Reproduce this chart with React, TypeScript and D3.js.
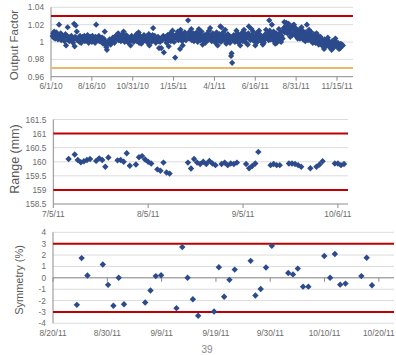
import React from 'react';
import * as d3 from 'd3';

// output factor: [days since 6/1/10, value]
const outputFactor: [number, number][] = [
  [3,1.007],[4,1.010],[5,1.005],[6,1.012],[7,1.008],[8,1.004],[10,1.011],[11,1.006],[12,1.009],[13,1.003],
  [14,1.007],[15,1.020],[17,1.005],[18,1.010],[19,1.002],[20,1.008],[21,1.004],[24,1.007],[25,1.001],[26,1.006],
  [27,1.009],[28,0.996],[31,1.017],[32,1.003],[33,1.006],[34,1.001],[35,1.004],[38,1.007],[39,1.002],[40,1.005],
  [41,0.999],[42,1.003],[43,1.021],[45,1.006],[46,1.019],[47,1.004],[48,1.012],[49,1.002],[52,1.005],[53,1.000],
  [54,1.007],[55,1.003],[56,0.999],[59,1.006],[60,1.002],[61,1.004],[62,1.007],[63,1.001],[66,1.005],[67,1.002],
  [68,1.008],[69,1.003],[70,0.999],[73,1.006],[74,1.002],[75,1.004],[76,1.000],[77,1.007],[80,1.003],[81,1.005],
  [82,0.999],[83,1.006],[84,1.020],[87,1.002],[88,1.004],[89,1.007],[90,1.001],[91,1.003],[94,1.000],[95,1.005],
  [96,1.002],[97,0.998],[98,1.004],[101,1.001],[102,0.997],[103,0.994],[104,0.991],[105,1.000],[108,0.998],[109,1.003],
  [110,1.000],[111,0.997],[112,1.002],[115,1.005],[116,1.001],[117,1.004],[118,0.999],[119,1.006],[122,1.008],[123,1.003],
  [124,1.006],[125,1.010],[126,1.002],[129,1.005],[130,1.001],[131,1.007],[132,1.003],[133,1.009],[136,1.004],[137,1.000],
  [138,1.006],[139,1.002],[140,1.008],[143,1.003],[144,0.999],[145,1.005],[146,1.001],[147,1.004],[150,1.007],[151,1.002],
  [152,1.004],[153,1.005],[154,1.000],[157,1.006],[158,1.003],[159,1.009],[160,1.001],[161,1.004],[164,0.999],[165,1.003],
  [166,1.007],[167,1.002],[168,0.998],[171,1.005],[172,1.001],[173,1.008],[174,1.003],[175,1.006],[178,1.002],[179,1.007],
  [180,0.999],[181,1.004],[182,1.009],[185,1.003],[186,1.006],[187,1.000],[188,1.005],[189,1.008],[190,1.016],[192,1.002],
  [193,1.007],[194,1.004],[195,0.999],[196,1.003],[199,1.006],[200,1.001],[201,0.993],[202,1.004],[203,1.000],[205,0.993],
  [206,1.005],[207,1.002],[209,1.007],[210,0.988],[213,1.003],[214,1.006],[215,0.999],[216,1.004],[217,1.008],[220,1.002],
  [221,1.005],[222,1.010],[223,1.001],[224,1.006],[227,1.003],[228,1.008],[229,1.000],[230,1.005],[231,0.982],[234,1.009],
  [235,1.004],[236,1.012],[237,1.002],[238,1.007],[240,0.992],[241,1.014],[242,1.005],[243,1.010],[244,1.001],[247,1.008],
  [248,1.004],[249,1.011],[250,1.006],[251,1.002],[255,1.025],[256,1.009],[257,1.004],[258,1.012],[259,1.007],[262,1.002],
  [263,1.009],[264,1.005],[265,1.010],[266,1.001],[269,1.007],[270,1.003],[271,1.011],[272,1.006],[273,1.000],[275,1.015],
  [276,1.004],[277,1.009],[278,1.002],[279,1.007],[280,1.012],[283,1.005],[284,1.001],[285,1.008],[286,1.003],[287,0.999],
  [290,1.006],[291,1.010],[292,1.002],[293,1.005],[294,1.013],[297,1.004],[298,1.008],[299,1.001],[300,1.006],[301,1.010],
  [304,1.003],[305,1.007],[306,0.999],[307,1.005],[308,1.011],[311,1.002],[312,1.006],[313,1.009],[314,1.004],[315,1.018],
  [316,1.000],[317,1.017],[318,1.008],[319,1.003],[320,1.011],[321,1.006],[322,1.002],[325,1.007],[326,0.998],[327,1.005],
  [328,1.001],[329,1.009],[332,1.003],[333,0.999],[334,1.006],[335,0.984],[336,0.987],[337,0.976],[339,1.002],[340,1.008],
  [341,1.004],[342,1.000],[343,1.007],[346,1.003],[347,1.010],[348,1.005],[349,0.999],[350,1.006],[353,1.002],[354,1.008],
  [355,1.004],[356,1.011],[357,1.001],[360,1.006],[361,1.003],[362,1.009],[363,0.999],[364,1.005],[367,1.010],[368,1.018],
  [369,1.004],[370,1.007],[371,1.002],[374,1.008],[375,1.003],[376,1.012],[377,1.006],[378,1.001],[381,1.007],[382,1.004],
  [383,1.010],[384,1.000],[385,1.005],[388,1.009],[389,1.003],[390,1.007],[391,1.001],[392,1.006],[395,1.004],[396,0.999],
  [397,1.008],[398,1.003],[401,1.006],[402,1.011],[403,1.004],[404,1.009],[405,1.002],[406,1.025],[407,1.013],[408,1.007],
  [409,1.003],[411,1.020],[412,1.010],[413,1.005],[414,1.012],[415,1.001],[416,1.008],[418,1.004],[419,1.010],[420,0.999],
  [421,1.006],[422,1.002],[425,1.009],[426,1.004],[427,1.011],[428,1.000],[429,1.007],[432,1.013],[433,1.016],[434,1.023],
  [435,1.011],[436,1.018],[439,1.014],[440,1.010],[441,1.017],[442,1.021],[443,1.012],[446,1.015],[447,1.010],[448,1.018],
  [449,1.008],[450,1.019],[453,1.013],[454,1.009],[455,1.016],[456,1.011],[457,1.006],[460,1.012],[461,1.007],[462,1.014],
  [463,1.004],[464,1.010],[467,1.008],[468,1.013],[469,1.003],[470,1.009],[471,1.006],[474,1.011],[475,1.004],[476,1.020],
  [477,1.007],[478,1.002],[481,1.009],[482,1.005],[483,1.012],[484,1.001],[485,1.007],[488,1.004],[489,1.009],[490,1.002],
  [491,1.006],[492,0.999],[495,1.005],[496,1.001],[497,1.007],[498,0.997],[499,1.003],[502,0.999],[503,1.004],[504,0.996],
  [505,1.001],[506,0.998],[509,1.003],[510,0.995],[511,1.000],[512,0.997],[513,1.002],[516,0.998],[517,1.001],[518,0.994],
  [519,0.999],[520,0.996],[523,1.001],[524,0.997],[525,0.993],[526,0.999],[527,0.995],[530,1.000],[531,0.996],[532,0.998],
  [533,0.994],[534,0.999],[537,0.996],[538,0.993],[539,0.998],[540,0.995],[541,0.997],
  // scattered readings
  [44,0.995],[100,1.012],[135,1.012],[148,0.996],[163,1.011],[183,0.996],[219,0.995],[226,1.013],[245,0.996],[261,1.015],
  [282,0.997],[296,1.016],[310,0.996],[324,1.014],[345,1.013],[352,0.996],[359,1.014],[366,0.997],[373,1.015],[380,0.996],
  [387,1.013],[394,0.997],[400,1.014],[417,0.998],[424,1.015],[431,1.004],[438,1.022],[445,1.006],[452,1.020],[459,1.004],
  [466,1.017],[473,1.001],[480,1.014],[487,0.999],[494,1.010],[501,1.006],[508,0.992],[515,1.005],[522,0.991],[529,1.004],
  [536,0.992],[543,0.996],
];
const ofXLabels = ['6/1/10', '8/16/10', '10/31/10', '1/15/11', '4/1/11', '6/16/11', '8/31/11', '11/15/11'];
const ofYTicks = [0.96, 0.98, 1, 1.02, 1.04];

// range: [days since 7/5/11, mm]
const rangeMm: [number, number][] = [
  [5,160.10],[7,160.26],[8,160.06],[9,159.98],[10,160.02],[11,160.06],[12,160.10],
  [14,160.03],[15,160.12],[16,160.06],[17,159.82],[18,160.15],
  [21,160.05],[22,160.06],[23,160.0],[24,160.3],[25,159.86],
  [27,159.9],[28,160.16],[29,160.2],[30,160.08],[31,160.0],[32,159.94],
  [34,159.73],[35,159.68],[36,159.97],[37,159.62],[38,159.58],
  [44,159.97],[45,159.76],[46,160.10],[47,159.97],[48,159.92],[49,160.0],[50,159.92],[51,160.03],[52,159.94],[53,159.88],
  [55,159.92],[56,159.97],[57,159.88],[58,159.94],[59,159.92],[60,159.97],
  [63,159.92],[64,159.77],[65,159.85],[66,159.94],[67,160.35],
  [71,159.88],[72,159.92],[73,159.88],[74,159.88],
  [77,159.94],[78,159.94],[79,159.92],[80,159.88],[81,159.82],
  [84,159.77],[86,159.82],[87,159.90],[88,160.02],
  [92,159.94],[93,159.94],[94,159.88],[95,159.92],
];
const rangeXLabels = ['7/5/11', '8/5/11', '9/5/11', '10/6/11'];
const rangeYTicks = [158.5, 159, 159.5, 160, 160.5, 161, 161.5];

// symmetry: [days since 8/20/11, %]
const symmetry: [number, number][] = [
  [4.5,-2.38],[5.4,1.73],[6.5,0.2],[9.4,1.17],[10.4,-0.62],[11.4,-2.46],[12.4,0.0],[13.4,-2.32],
  [17.4,-2.17],[18.4,-1.11],[19.4,0.15],[20.4,0.23],[23.3,-2.67],[24.4,2.7],[25.4,0.0],[26.4,-1.88],
  [27.4,-3.33],[30.4,-2.96],[31.3,0.93],[32.3,-1.67],[33.3,-0.18],[34.3,0.72],[37.3,1.49],[38.2,-1.55],
  [39.2,-0.98],[40.2,0.9],[41.3,2.81],[44.4,0.42],[45.3,0.3],[46.2,0.81],[47.2,-0.78],[48.2,-0.78],
  [51.2,1.91],[52.3,0.0],[53.2,2.09],[54.2,-0.6],[55.2,-0.51],[58.2,0.15],[59.2,1.76],[60.2,-0.66],
];
const symXLabels = ['8/20/11', '8/30/11', '9/9/11', '9/19/11', '9/30/11', '10/10/11', '10/20/11'];
const symYTicks = [-4, -3, -2, -1, 0, 1, 2, 3, 4];

const RED = '#c00000';
const ORANGE = '#e9b86a';
const BLUE = '#2c4b8c';
const GRID = '#dcdcdc';
const AXIS = '#8c8c8c';
const FONT = '"Liberation Sans", Arial, Helvetica, sans-serif';

const diamond = (r: number) => `M0,${-r}L${r},0L0,${r}L${-r},0Z`;

type PanelProps = {
  data: [number, number][];
  xRange: [number, number];
  xDomain: [number, number];
  tickStep: number;
  xLabels: string[];
  yRange: [number, number];
  yDomain: [number, number];
  yTicks: number[];
  yFmt: (v: number) => string;
  limits: { v: number; c: string }[];
  zeroAxis?: boolean;
  title: string;
  titleX: number;
  titleY: number;
  titleSize: number;
  labelY: number;
  r: number;
};

function Panel(p: PanelProps) {
  const x = d3.scaleLinear().domain(p.xDomain).range(p.xRange);
  const y = d3.scaleLinear().domain(p.yDomain).range(p.yRange);
  const [x0, x1] = p.xRange;
  const yBottom = p.yRange[0];
  const axisY = p.zeroAxis ? y(0) : yBottom;
  return (
    <g>
      {p.yTicks.map((t) => (
        <line key={'g' + t} x1={x0} x2={x1} y1={y(t)} y2={y(t)}
          stroke={t === p.yDomain[0] && !p.zeroAxis ? AXIS : GRID} strokeWidth={1} />
      ))}
      <line x1={x0} x2={x0} y1={p.yRange[1]} y2={yBottom} stroke={AXIS} strokeWidth={1} />
      {p.zeroAxis && <line x1={x0} x2={x1} y1={axisY} y2={axisY} stroke={AXIS} strokeWidth={1} />}
      {p.xLabels.map((l, i) => (
        <g key={l}>
          <line x1={x(i * p.tickStep)} x2={x(i * p.tickStep)} y1={axisY} y2={axisY + 4} stroke={AXIS} />
          <text x={x(i * p.tickStep)} y={p.labelY} textAnchor="middle" fontSize={8.3} fill="#6b6b6b" fontFamily={FONT}>{l}</text>
        </g>
      ))}
      {p.yTicks.map((t) => (
        <text key={'t' + t} x={x0 - 7} y={y(t) + 3} textAnchor="end" fontSize={8.3} fill="#6b6b6b" fontFamily={FONT}>{p.yFmt(t)}</text>
      ))}
      {p.limits.map((l) => (
        <line key={'l' + l.v} x1={x0} x2={x1} y1={y(l.v)} y2={y(l.v)} stroke={l.c} strokeWidth={2} />
      ))}
      {p.data.map((d, i) => (
        <path key={i} d={diamond(p.r)} transform={`translate(${x(d[0])},${y(d[1])})`} fill={BLUE} />
      ))}
      <text transform={`translate(${p.titleX},${p.titleY}) rotate(-90)`} textAnchor="middle" fontSize={p.titleSize}
        fill="#595959" fontFamily={FONT}>{p.title}</text>
    </g>
  );
}

export default function App() {
  return (
    <svg width={396} height={355} style={{ position: 'absolute', left: 0, top: 0, background: '#fff' }}>
      <Panel data={outputFactor} xRange={[51, 353]} xDomain={[0, 561.8]} tickStep={76} xLabels={ofXLabels}
        yRange={[76.7, 7.3]} yDomain={[0.96, 1.04]} yTicks={ofYTicks} yFmt={(v) => d3.format('')(+v.toFixed(2))}
        limits={[{ v: 1.03, c: RED }, { v: 0.97, c: ORANGE }]} title="Output Factor" titleX={18} titleY={45}
        titleSize={11.5} labelY={89} r={3.1} />
      <Panel data={rangeMm} xRange={[53.3, 348]} xDomain={[0, 96.3]} tickStep={31} xLabels={rangeXLabels}
        yRange={[204, 119.5]} yDomain={[158.5, 161.5]} yTicks={rangeYTicks} yFmt={(v) => String(v)}
        limits={[{ v: 161, c: RED }, { v: 159, c: RED }]} title="Range (mm)" titleX={18.5} titleY={159}
        titleSize={12.5} labelY={217} r={3.2} />
      <Panel data={symmetry} xRange={[53, 394]} xDomain={[0, 64.36]} tickStep={10.25} xLabels={symXLabels}
        yRange={[323.3, 232.3]} yDomain={[-4, 4]} yTicks={symYTicks} yFmt={(v) => String(v)}
        limits={[{ v: 3, c: RED }, { v: -3, c: RED }]} zeroAxis title="Symmetry (%)" titleX={22.5} titleY={280}
        titleSize={11} labelY={336} r={3.2} />
      <text x={207} y={353} textAnchor="middle" fontSize={10} fill="#8a8a8a" fontFamily={FONT}>39</text>
    </svg>
  );
}
